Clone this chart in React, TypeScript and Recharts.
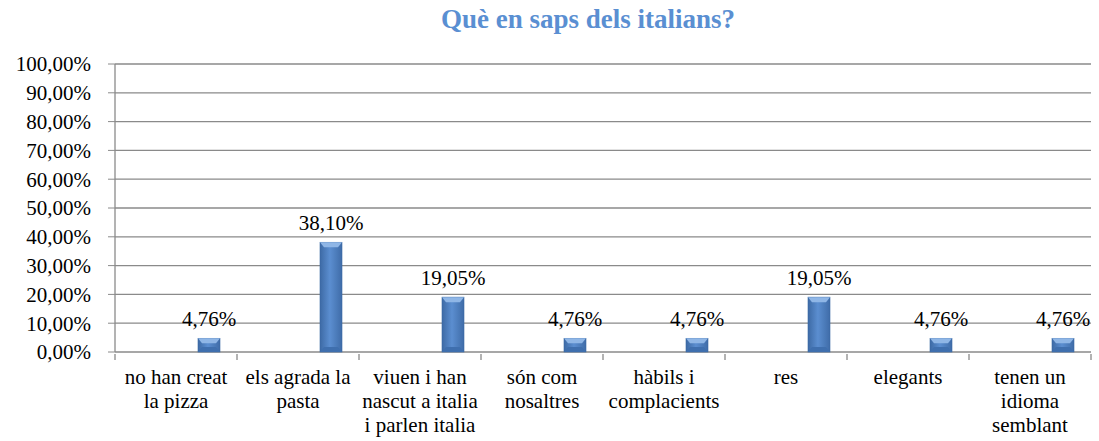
import { BarChart, Bar, XAxis, YAxis, CartesianGrid, LabelList } from 'recharts'

const categories = [
  'no han creat\nla pizza',
  'els agrada la\npasta',
  'viuen i han\nnascut a italia\ni parlen italia',
  'són com\nnosaltres',
  'hàbils i\ncomplacients',
  'res',
  'elegants',
  'tenen un\nidioma\nsemblant',
]
const values = [4.76, 38.1, 19.05, 4.76, 4.76, 19.05, 4.76, 4.76]
const yTicks = [0, 10, 20, 30, 40, 50, 60, 70, 80, 90, 100]

const data = categories.map((name, i) => ({ name, value: values[i] }))

const fmt = (v: number) => v.toFixed(2).replace('.', ',') + '%'
const FONT = 'Liberation Serif, Tinos, DejaVu Serif, Times New Roman, serif'

function CategoryTick(props: any) {
  const { x, y, payload, index } = props
  const half = payload.offset || 0
  const lines = String(payload.value).split('\n')
  const y0 = y - 8
  return (
    <g>
      <line x1={x - half} x2={x - half} y1={y0} y2={y0 + 6} stroke="#8a8a8a" strokeWidth={1.3} />
      {index === categories.length - 1 && (
        <line x1={x + half} x2={x + half} y1={y0} y2={y0 + 6} stroke="#8a8a8a" strokeWidth={1.3} />
      )}
      <text x={x} y={y} textAnchor="middle" fontFamily={FONT} fontSize={21} fill="#000">
        {lines.map((l, i) => (
          <tspan key={i} x={x} dy={i === 0 ? 22 : 24}>{l}</tspan>
        ))}
      </text>
    </g>
  )
}

function BarShape(props: any) {
  const { x, y, width, height } = props
  if (!height || height <= 0) return null
  const cap = Math.min(5, height / 2)
  return (
    <g>
      <rect x={x} y={y} width={width} height={height} fill="url(#barGrad)" stroke="#3b6aa3" strokeWidth={0.6} />
      <polygon
        points={`${x},${y} ${x + width},${y} ${x + width - 4},${y + cap} ${x + 4},${y + cap}`}
        fill="#8fb6e6"
      />
      <polygon
        points={`${x + 4},${y + height - cap} ${x + width - 4},${y + height - cap} ${x + width},${y + height} ${x},${y + height}`}
        fill="#3f6fae"
      />
    </g>
  )
}

export default function App() {
  return (
    <div style={{ position: 'absolute', left: 0, top: 0, width: 1099, height: 441, background: '#fff' }}>
      <div
        style={{
          position: 'absolute',
          left: 388,
          width: 400,
          top: 4,
          textAlign: 'center',
          fontFamily: FONT,
          fontWeight: 'bold',
          fontSize: 27,
          color: '#5a8fd2',
          whiteSpace: 'nowrap',
        }}
      >
        Què en saps dels italians?
      </div>
      <BarChart
        width={1099}
        height={441}
        data={data}
        margin={{ top: 64, right: 8, left: 0, bottom: 0 }}
        barGap={44}
        barSize={22}
      >
        <defs>
          <linearGradient id="barGrad" x1="0" y1="0" x2="1" y2="0">
            <stop offset="0%" stopColor="#3d6aa5" />
            <stop offset="45%" stopColor="#5b8ed0" />
            <stop offset="100%" stopColor="#3f6ca8" />
          </linearGradient>
        </defs>
        <CartesianGrid vertical={false} stroke="#8a8a8a" strokeWidth={1.3} />
        <XAxis
          dataKey="name"
          height={89}
          axisLine={false}
          tickLine={false}
          tickSize={8}
          interval={0}
          tick={<CategoryTick />}
        />
        <YAxis
          domain={[0, 100]}
          ticks={yTicks}
          width={115}
          tickFormatter={fmt}
          tickSize={7}
          tickMargin={17}
          interval={0}
          axisLine={{ stroke: '#8a8a8a', strokeWidth: 1.3 }}
          tickLine={{ stroke: '#8a8a8a' }}
          tick={{ fill: '#000', fontSize: 21, fontFamily: FONT }}
        />
        <Bar dataKey="blank" isAnimationActive={false} />
        <Bar dataKey="value" isAnimationActive={false} shape={<BarShape />}>
          <LabelList
            dataKey="value"
            position="top"
            offset={12}
            formatter={(v: any) => fmt(Number(v))}
            style={{ fill: '#000', fontSize: 21, fontFamily: FONT }}
          />
        </Bar>
      </BarChart>
    </div>
  )
}
